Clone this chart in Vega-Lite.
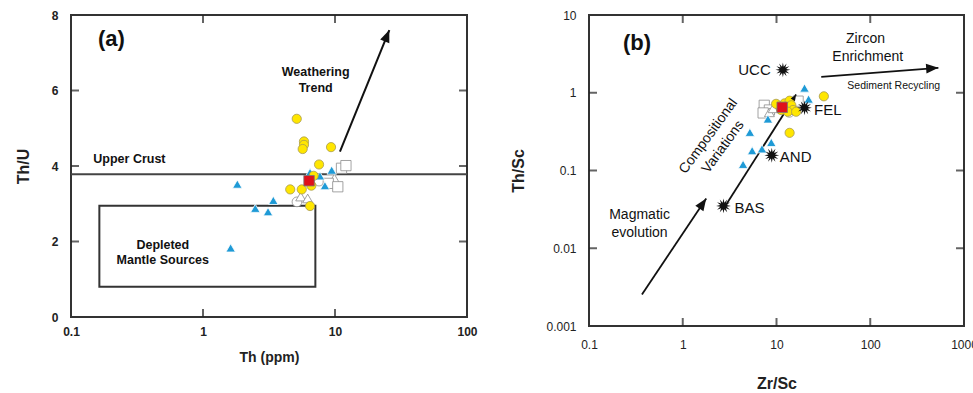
{
  "$schema": "https://vega.github.io/schema/vega-lite/v6.json",
  "background": "white",
  "padding": {"left": 14, "top": 8, "right": 0, "bottom": 0},
  "spacing": 30,
  "config": {
    "font": "Liberation Sans",
    "view": {"stroke": "#333333", "strokeWidth": 2},
    "axis": {"grid": false, "domain": false, "ticks": false, "labelColor": "#222222", "titleColor": "#222222", "labelFlush": false, "labelOverlap": false}
  },
  "datasets": {
    "a_xticks": [{"v": 1, "e": 0}, {"v": 10, "e": 0}, {"v": 1, "e": 8}, {"v": 10, "e": 8}],
    "a_yticks": [{"v": 2, "e": 0.1}, {"v": 4, "e": 0.1}, {"v": 6, "e": 0.1}, {"v": 2, "e": 100}, {"v": 4, "e": 100}, {"v": 6, "e": 100}],
    "b_xticks": [{"v": 1, "e": 0.001}, {"v": 10, "e": 0.001}, {"v": 100, "e": 0.001}, {"v": 1, "e": 10}, {"v": 10, "e": 10}, {"v": 100, "e": 10}],
    "b_yticks": [{"v": 0.01, "e": 0.1}, {"v": 0.1, "e": 0.1}, {"v": 1, "e": 0.1}, {"v": 0.01, "e": 1000}, {"v": 0.1, "e": 1000}, {"v": 1, "e": 1000}],
    "a_pts": [
      {"th": 5.15, "thu": 3.05, "grp": "OC"}, {"th": 7.57, "thu": 3.60, "grp": "OC"},
      {"th": 5.50, "thu": 3.19, "grp": "OT"}, {"th": 6.21, "thu": 3.14, "grp": "OT"}, {"th": 9.89, "thu": 3.67, "grp": "OT"},
      {"th": 11.2, "thu": 3.94, "grp": "OS"}, {"th": 12.1, "thu": 4.01, "grp": "OS"}, {"th": 8.89, "thu": 3.54, "grp": "OS"}, {"th": 10.5, "thu": 3.45, "grp": "OS"},
      {"th": 1.82, "thu": 3.52, "grp": "B"}, {"th": 2.49, "thu": 2.88, "grp": "B"}, {"th": 3.11, "thu": 2.79, "grp": "B"}, {"th": 3.41, "thu": 3.09, "grp": "B"}, {"th": 1.62, "thu": 1.83, "grp": "B"}, {"th": 6.47, "thu": 3.83, "grp": "B"}, {"th": 7.69, "thu": 3.74, "grp": "B"}, {"th": 8.39, "thu": 3.48, "grp": "B"}, {"th": 9.44, "thu": 3.89, "grp": "B"},
      {"th": 5.13, "thu": 5.25, "grp": "Y"}, {"th": 5.82, "thu": 4.65, "grp": "Y"}, {"th": 5.82, "thu": 4.56, "grp": "Y"}, {"th": 5.69, "thu": 4.45, "grp": "Y"}, {"th": 9.33, "thu": 4.50, "grp": "Y"}, {"th": 7.57, "thu": 4.04, "grp": "Y"}, {"th": 6.89, "thu": 3.74, "grp": "Y"}, {"th": 6.62, "thu": 3.48, "grp": "Y"}, {"th": 5.60, "thu": 3.38, "grp": "Y"}, {"th": 4.58, "thu": 3.38, "grp": "Y"}, {"th": 6.47, "thu": 2.94, "grp": "Y"},
      {"th": 6.36, "thu": 3.61, "grp": "R"}
    ],
    "a_box": [{"x1": 0.164, "x2": 7.1, "y1": 0.8, "y2": 2.95}],
    "a_crust": [{"y": 3.78}],
    "a_arrow": [{"x1": 10.9, "y1": 4.38, "x2": 25.8, "y2": 7.6}],
    "a_title": [{"x": 0.16, "y": 7.36, "label": "(a)"}],
    "a_text": [
      {"x": 7.14, "y": 6.49, "label": "Weathering"},
      {"x": 7.14, "y": 6.07, "label": "Trend"},
      {"x": 0.277, "y": 4.19, "label": "Upper Crust"},
      {"x": 0.496, "y": 1.91, "label": "Depleted"},
      {"x": 0.496, "y": 1.52, "label": "Mantle Sources"}
    ],
    "b_pts": [
      {"zr": 7.4, "ths": 0.69, "grp": "OS"}, {"zr": 8.4, "ths": 0.60, "grp": "OS"}, {"zr": 7.2, "ths": 0.55, "grp": "OS"}, {"zr": 17.0, "ths": 0.78, "grp": "OS"},
      {"zr": 8.4, "ths": 0.56, "grp": "OT"}, {"zr": 9.2, "ths": 0.63, "grp": "OT"},
      {"zr": 13.7, "ths": 0.56, "grp": "OC"}, {"zr": 12.4, "ths": 0.61, "grp": "OC"},
      {"zr": 19.9, "ths": 1.15, "grp": "B"}, {"zr": 22.0, "ths": 0.83, "grp": "B"}, {"zr": 8.1, "ths": 0.46, "grp": "B"}, {"zr": 5.2, "ths": 0.31, "grp": "B"}, {"zr": 8.8, "ths": 0.23, "grp": "B"}, {"zr": 7.0, "ths": 0.19, "grp": "B"}, {"zr": 5.5, "ths": 0.18, "grp": "B"}, {"zr": 4.4, "ths": 0.12, "grp": "B"},
      {"zr": 32.0, "ths": 0.90, "grp": "Y"}, {"zr": 13.8, "ths": 0.305, "grp": "Y"}, {"zr": 10.8, "ths": 0.67, "grp": "Y"}, {"zr": 12.2, "ths": 0.73, "grp": "Y"}, {"zr": 13.8, "ths": 0.79, "grp": "Y"}, {"zr": 14.4, "ths": 0.69, "grp": "Y"}, {"zr": 15.0, "ths": 0.60, "grp": "Y"}, {"zr": 13.2, "ths": 0.57, "grp": "Y"}, {"zr": 11.2, "ths": 0.60, "grp": "Y"}, {"zr": 16.2, "ths": 0.57, "grp": "Y"}, {"zr": 9.9, "ths": 0.72, "grp": "Y"},
      {"zr": 11.5, "ths": 0.65, "grp": "R"}
    ],
    "b_ref": [
      {"zr": 11.7, "ths": 1.97, "name": "UCC"},
      {"zr": 19.9, "ths": 0.64, "name": "FEL"},
      {"zr": 8.9, "ths": 0.157, "name": "AND"},
      {"zr": 2.72, "ths": 0.035, "name": "BAS"}
    ],
    "b_reflabel": [
      {"x": 5.82, "y": 1.97, "label": "UCC"},
      {"x": 35.3, "y": 0.60, "label": "FEL"},
      {"x": 16.0, "y": 0.147, "label": "AND"},
      {"x": 5.15, "y": 0.033, "label": "BAS"}
    ],
    "b_arrows": [
      {"id": "magma", "x1": 0.367, "y1": 0.00254, "x2": 1.78, "y2": 0.0437},
      {"id": "comp", "x1": 2.69, "y1": 0.0315, "x2": 16.2, "y2": 0.95},
      {"id": "zircon", "x1": 30, "y1": 1.60, "x2": 533, "y2": 2.09}
    ],
    "b_title": [{"x": 0.23, "y": 4.3, "label": "(b)"}],
    "b_text": [
      {"x": 89, "y": 4.9, "label": "Zircon"},
      {"x": 94, "y": 2.9, "label": "Enrichment"},
      {"x": 0.346, "y": 0.0266, "label": "Magmatic"},
      {"x": 0.346, "y": 0.0157, "label": "evolution"}
    ],
    "b_small": [{"x": 178, "y": 1.23, "label": "Sediment Recycling"}],
    "b_rot": [
      {"x": 1.88, "y": 0.276, "label": "Compositional"},
      {"x": 2.69, "y": 0.201, "label": "Variations"}
    ]
  },
  "hconcat": [
    {
      "width": 396,
      "height": 302,
      "layer": [
        {
          "data": {"name": "a_box"},
          "mark": {"type": "rect", "filled": false, "stroke": "#333333", "strokeWidth": 2},
          "encoding": {
            "x": {"field": "x1", "type": "quantitative", "scale": {"type": "log", "domain": [0.1, 100]},
              "axis": {"orient": "bottom", "values": [0.1, 1, 10, 100], "format": "~g", "labelPadding": 9, "labelFontSize": 12, "labelFontWeight": "bold", "title": "Th (ppm)", "titleFontSize": 14, "titleFontWeight": "bold", "titlePadding": 13}},
            "x2": {"field": "x2"},
            "y": {"field": "y1", "type": "quantitative", "scale": {"domain": [0, 8], "nice": false, "zero": false},
              "axis": {"orient": "left", "values": [0, 2, 4, 6, 8], "labelPadding": 13, "labelFontSize": 12, "labelFontWeight": "bold", "title": "Th/U", "titleFontSize": 16, "titleFontWeight": "bold", "titlePadding": 20}},
            "y2": {"field": "y2"}
          }
        },
        {
          "data": {"name": "a_xticks"},
          "mark": {"type": "tick", "orient": "vertical", "size": 16, "thickness": 2, "color": "#222222", "clip": true},
          "encoding": {
            "x": {"field": "v", "type": "quantitative"},
            "y": {"field": "e", "type": "quantitative"}
          }
        },
        {
          "data": {"name": "a_yticks"},
          "mark": {"type": "tick", "orient": "horizontal", "size": 16, "thickness": 2, "color": "#222222", "clip": true},
          "encoding": {
            "x": {"field": "e", "type": "quantitative"},
            "y": {"field": "v", "type": "quantitative"}
          }
        },
        {
          "data": {"name": "a_crust"},
          "mark": {"type": "rule", "stroke": "#444444", "strokeWidth": 2},
          "encoding": {"y": {"field": "y", "type": "quantitative"}}
        },
        {
          "data": {"name": "a_arrow"},
          "mark": {"type": "rule", "stroke": "#111111", "strokeWidth": 2},
          "encoding": {
            "x": {"field": "x1", "type": "quantitative"},
            "y": {"field": "y1", "type": "quantitative"},
            "x2": {"field": "x2"},
            "y2": {"field": "y2"}
          }
        },
        {
          "data": {"name": "a_arrow"},
          "mark": {"type": "point", "shape": "M0,0L0.8,2L-0.8,2Z", "filled": true, "fill": "#111111", "size": 150, "angle": 22, "opacity": 1},
          "encoding": {
            "x": {"field": "x2", "type": "quantitative"},
            "y": {"field": "y2", "type": "quantitative"}
          }
        },
        {
          "data": {"name": "a_pts"},
          "mark": {"type": "point", "filled": true, "strokeWidth": 0.8, "opacity": 1},
          "encoding": {
            "x": {"field": "th", "type": "quantitative"},
            "y": {"field": "thu", "type": "quantitative"},
            "shape": {"field": "grp", "type": "nominal", "scale": {"domain": ["Y", "B", "OC", "OT", "OS", "R"], "range": ["circle", "triangle-up", "circle", "triangle-up", "square", "square"]}, "legend": null},
            "size": {"field": "grp", "type": "nominal", "scale": {"domain": ["Y", "B", "OC", "OT", "OS", "R"], "range": [85, 110, 80, 110, 70, 70]}, "legend": null},
            "fill": {"field": "grp", "type": "nominal", "scale": {"domain": ["Y", "B", "OC", "OT", "OS", "R"], "range": ["#FFE600", "#1E9AD6", "#FFFFFF", "#FFFFFF", "#FFFFFF", "#E0101A"]}, "legend": null},
            "stroke": {"field": "grp", "type": "nominal", "scale": {"domain": ["Y", "B", "OC", "OT", "OS", "R"], "range": ["#A89A50", "#FFFFFF", "#8C8C8C", "#8C8C8C", "#8C8C8C", "#7A7A7A"]}, "legend": null}
          }
        },
        {
          "data": {"name": "a_title"},
          "mark": {"type": "text", "fontSize": 22, "fontWeight": "bold", "align": "left", "baseline": "middle", "color": "#111111"},
          "encoding": {
            "x": {"field": "x", "type": "quantitative"},
            "y": {"field": "y", "type": "quantitative"},
            "text": {"field": "label"}
          }
        },
        {
          "data": {"name": "a_text"},
          "mark": {"type": "text", "fontSize": 12.5, "fontWeight": "bold", "align": "center", "baseline": "middle", "color": "#111111"},
          "encoding": {
            "x": {"field": "x", "type": "quantitative"},
            "y": {"field": "y", "type": "quantitative"},
            "text": {"field": "label"}
          }
        }
      ]
    },
    {
      "width": 375,
      "height": 311,
      "layer": [
        {
          "data": {"name": "b_arrows"},
          "mark": {"type": "rule", "stroke": "#111111", "strokeWidth": 1.8},
          "encoding": {
            "x": {"field": "x1", "type": "quantitative", "scale": {"type": "log", "domain": [0.1, 1000]},
              "axis": {"orient": "bottom", "values": [0.1, 1, 10, 100, 1000], "format": "~g", "labelPadding": 13, "labelFontSize": 12, "title": "Zr/Sc", "titleFontSize": 16, "titleFontWeight": "bold", "titlePadding": 25}},
            "y": {"field": "y1", "type": "quantitative", "scale": {"type": "log", "domain": [0.001, 10]},
              "axis": {"orient": "left", "values": [0.001, 0.01, 0.1, 1, 10], "format": "~g", "labelPadding": 13, "labelFontSize": 12, "title": "Th/Sc", "titleFontSize": 16, "titleFontWeight": "bold", "titlePadding": 19}},
            "x2": {"field": "x2"},
            "y2": {"field": "y2"}
          }
        },
        {
          "data": {"name": "b_xticks"},
          "mark": {"type": "tick", "orient": "vertical", "size": 16, "thickness": 2, "color": "#222222", "clip": true},
          "encoding": {
            "x": {"field": "v", "type": "quantitative"},
            "y": {"field": "e", "type": "quantitative"}
          }
        },
        {
          "data": {"name": "b_yticks"},
          "mark": {"type": "tick", "orient": "horizontal", "size": 16, "thickness": 2, "color": "#222222", "clip": true},
          "encoding": {
            "x": {"field": "e", "type": "quantitative"},
            "y": {"field": "v", "type": "quantitative"}
          }
        },
        {
          "data": {"name": "b_pts"},
          "mark": {"type": "point", "filled": true, "strokeWidth": 0.8, "opacity": 1},
          "encoding": {
            "x": {"field": "zr", "type": "quantitative"},
            "y": {"field": "ths", "type": "quantitative"},
            "shape": {"field": "grp", "type": "nominal", "scale": {"domain": ["Y", "B", "OC", "OT", "OS", "R"], "range": ["circle", "triangle-up", "circle", "triangle-up", "square", "square"]}, "legend": null},
            "size": {"field": "grp", "type": "nominal", "scale": {"domain": ["Y", "B", "OC", "OT", "OS", "R"], "range": [70, 100, 65, 95, 60, 30]}, "legend": null},
            "fill": {"field": "grp", "type": "nominal", "scale": {"domain": ["Y", "B", "OC", "OT", "OS", "R"], "range": ["#FFE600", "#1E9AD6", "#FFFFFF", "#FFFFFF", "#FFFFFF", "#E0101A"]}, "legend": null},
            "stroke": {"field": "grp", "type": "nominal", "scale": {"domain": ["Y", "B", "OC", "OT", "OS", "R"], "range": ["#A89A50", "#FFFFFF", "#8C8C8C", "#8C8C8C", "#8C8C8C", "#E0101A"]}, "legend": null}
          }
        },
        {
          "data": {"name": "b_arrows"},
          "transform": [{"filter": "datum.id === 'magma'"}],
          "mark": {"type": "point", "shape": "M0,0L0.8,2L-0.8,2Z", "filled": true, "fill": "#111111", "size": 150, "angle": 34, "opacity": 1},
          "encoding": {
            "x": {"field": "x2", "type": "quantitative"},
            "y": {"field": "y2", "type": "quantitative"}
          }
        },
        {
          "data": {"name": "b_arrows"},
          "transform": [{"filter": "datum.id === 'comp'"}],
          "mark": {"type": "point", "shape": "M0,0L0.8,2L-0.8,2Z", "filled": true, "fill": "#111111", "size": 40, "angle": 32, "opacity": 1},
          "encoding": {
            "x": {"field": "x2", "type": "quantitative"},
            "y": {"field": "y2", "type": "quantitative"}
          }
        },
        {
          "data": {"name": "b_arrows"},
          "transform": [{"filter": "datum.id === 'zircon'"}],
          "mark": {"type": "point", "shape": "M0,0L0.8,2L-0.8,2Z", "filled": true, "fill": "#111111", "size": 150, "angle": 86, "opacity": 1},
          "encoding": {
            "x": {"field": "x2", "type": "quantitative"},
            "y": {"field": "y2", "type": "quantitative"}
          }
        },
        {
          "data": {"name": "b_ref"},
          "mark": {"type": "point", "shape": "M1,0L0.435,0.116L0.866,0.5L0.318,0.318L0.5,0.866L0.116,0.435L0,1L-0.116,0.435L-0.5,0.866L-0.318,0.318L-0.866,0.5L-0.435,0.116L-1,0L-0.435,-0.116L-0.866,-0.5L-0.318,-0.318L-0.5,-0.866L-0.116,-0.435L0,-1L0.116,-0.435L0.5,-0.866L0.318,-0.318L0.866,-0.5L0.435,-0.116Z", "filled": true, "fill": "#111111", "size": 220, "opacity": 1},
          "encoding": {
            "x": {"field": "zr", "type": "quantitative"},
            "y": {"field": "ths", "type": "quantitative"}
          }
        },
        {
          "data": {"name": "b_reflabel"},
          "mark": {"type": "text", "fontSize": 15, "align": "center", "baseline": "middle", "color": "#111111"},
          "encoding": {
            "x": {"field": "x", "type": "quantitative"},
            "y": {"field": "y", "type": "quantitative"},
            "text": {"field": "label"}
          }
        },
        {
          "data": {"name": "b_title"},
          "mark": {"type": "text", "fontSize": 22, "fontWeight": "bold", "align": "left", "baseline": "middle", "color": "#111111"},
          "encoding": {
            "x": {"field": "x", "type": "quantitative"},
            "y": {"field": "y", "type": "quantitative"},
            "text": {"field": "label"}
          }
        },
        {
          "data": {"name": "b_text"},
          "mark": {"type": "text", "fontSize": 14, "align": "center", "baseline": "middle", "color": "#111111"},
          "encoding": {
            "x": {"field": "x", "type": "quantitative"},
            "y": {"field": "y", "type": "quantitative"},
            "text": {"field": "label"}
          }
        },
        {
          "data": {"name": "b_small"},
          "mark": {"type": "text", "fontSize": 10.5, "align": "center", "baseline": "middle", "color": "#111111"},
          "encoding": {
            "x": {"field": "x", "type": "quantitative"},
            "y": {"field": "y", "type": "quantitative"},
            "text": {"field": "label"}
          }
        },
        {
          "data": {"name": "b_rot"},
          "mark": {"type": "text", "fontSize": 14, "align": "center", "baseline": "middle", "angle": -54, "color": "#111111"},
          "encoding": {
            "x": {"field": "x", "type": "quantitative"},
            "y": {"field": "y", "type": "quantitative"},
            "text": {"field": "label"}
          }
        }
      ]
    }
  ]
}
